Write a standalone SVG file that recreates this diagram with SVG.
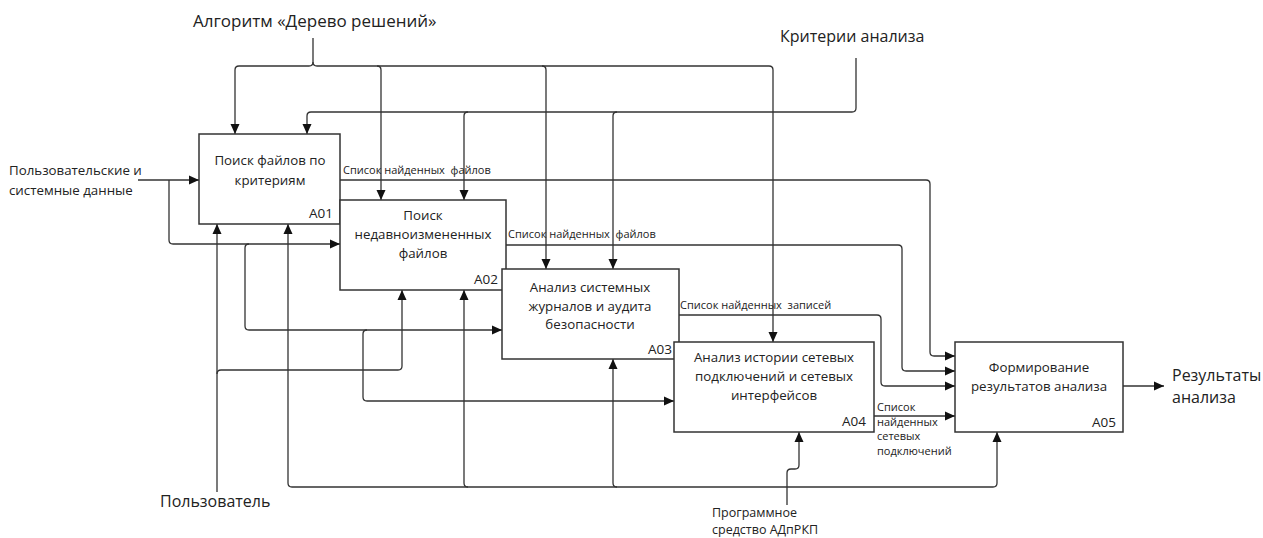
<svg xmlns="http://www.w3.org/2000/svg" width="1263" height="538" viewBox="0 0 1263 538">
<style>
text{font-family:"Open Sans","Noto Sans","Liberation Sans",sans-serif;fill:#222;white-space:pre}
.box{fill:#fff;stroke:#333;stroke-width:1.5}
.nt{font-size:13.3px;text-anchor:middle}
.id{font-size:13.5px;text-anchor:end}
.lab{font-size:11px}
.c{fill:none;stroke:#333;stroke-width:1.3}
.a{marker-end:url(#ah)}
</style>
<defs>
<marker id="ah" viewBox="0 0 10 10" refX="10" refY="5" markerWidth="10" markerHeight="10" markerUnits="userSpaceOnUse" orient="auto">
<path d="M0,0.5 L10,5 L0,9.5 z" fill="#111"/>
</marker>
</defs>
<rect width="1263" height="538" fill="#fff"/>
<g id="connectors">
<path class="c a" d="M313,38 V62 Q313,66 309,66 H239 Q235,66 235,70 V134"/>
<path class="c a" d="M313,62 Q313,66 317,66 H769 Q773,66 773,70 V342"/>
<path class="c a" d="M377,66 Q381,66 381,70 V200"/>
<path class="c a" d="M542,66 Q546,66 546,70 V269"/>
<path class="c a" d="M856,58 V108 Q856,112 852,112 H311 Q307,112 307,116 V134"/>
<path class="c a" d="M468,112 Q464,112 464,116 V200"/>
<path class="c a" d="M617,112 Q613,112 613,116 V269"/>
<path class="c a" d="M138,180 H199"/>
<path class="c a" d="M169,180 V240 Q169,244 173,244 H340"/>
<path class="c a" d="M249,244 Q245,244 245,248 V326 Q245,330 249,330 H502"/>
<path class="c a" d="M367,330 Q363,330 363,334 V397 Q363,401 367,401 H674"/>
<path class="c a" d="M340,180 H926 Q930,180 930,184 V352 Q930,356 934,356 H955"/>
<path class="c a" d="M506,245 H898 Q902,245 902,249 V367 Q902,371 906,371 H955"/>
<path class="c a" d="M679,315 H877 Q881,315 881,319 V382 Q881,386 885,386 H955"/>
<path class="c a" d="M874,416 H955"/>
<path class="c a" d="M1123,386 H1164"/>
<path class="c a" d="M217,492 V224"/>
<path class="c a" d="M217,374 Q217,370 221,370 H398 Q402,370 402,366 V290"/>
<path class="c a" d="M292,487 Q288,487 288,483 V224"/>
<path class="c a" d="M292,487 H993 Q997,487 997,483 V432"/>
<path class="c a" d="M468,487 Q464,487 464,483 V290"/>
<path class="c a" d="M617,487 Q613,487 613,483 V359"/>
<path class="c a" d="M787,505 V473 Q787,469 791,469 H795 Q799,469 799,465 V432"/>
</g>
<g id="A01">
<rect class="box" x="199" y="134" width="141" height="90"/>
<text class="nt" x="270" y="165">Поиск файлов по</text>
<text class="nt" x="270" y="185">критериям</text>
<text class="id" x="333" y="218">A01</text>
</g>
<g id="A02">
<rect class="box" x="340" y="200" width="166" height="90"/>
<text class="nt" x="423" y="220">Поиск</text>
<text class="nt" x="423" y="239">недавноизмененных</text>
<text class="nt" x="423" y="258">файлов</text>
<text class="id" x="498" y="284">A02</text>
</g>
<g id="A03">
<rect class="box" x="502" y="269" width="177" height="90"/>
<text class="nt" x="590" y="292">Анализ системных</text>
<text class="nt" x="590" y="311">журналов и аудита</text>
<text class="nt" x="590" y="329">безопасности</text>
<text class="id" x="672" y="354">A03</text>
</g>
<g id="A04">
<rect class="box" x="674" y="342" width="200" height="90"/>
<text class="nt" x="774" y="362">Анализ истории сетевых</text>
<text class="nt" x="774" y="381">подключений и сетевых</text>
<text class="nt" x="774" y="400">интерфейсов</text>
<text class="id" x="866" y="426">A04</text>
</g>
<g id="A05">
<rect class="box" x="955" y="342" width="168" height="90"/>
<text class="nt" x="1039" y="372">Формирование</text>
<text class="nt" x="1039" y="391">результатов анализа</text>
<text class="id" x="1116" y="427">A05</text>
</g>
<g id="labels">
<text style="font-size:17px" x="193" y="27">Алгоритм «Дерево решений»</text>
<text style="font-size:16px" x="780" y="42">Критерии анализа</text>
<text style="font-size:13.3px" x="9" y="175">Пользовательские и</text>
<text style="font-size:13.3px" x="9" y="195">системные данные</text>
<text style="font-size:16px" x="160" y="507">Пользователь</text>
<text style="font-size:12.5px" x="712" y="517">Программное</text>
<text style="font-size:12.5px" x="712" y="534">средство АДпРКП</text>
<text style="font-size:16px" x="1172" y="381">Результаты</text>
<text style="font-size:16px" x="1172" y="403">анализа</text>
<text class="lab" x="343" y="174">Список найденных  файлов</text>
<text class="lab" x="508" y="238">Список найденных  файлов</text>
<text class="lab" x="680" y="309">Список найденных  записей</text>
<text class="lab" x="877" y="411">Список</text>
<text class="lab" x="877" y="426">найденных</text>
<text class="lab" x="877" y="440">сетевых</text>
<text class="lab" x="877" y="455">подключений</text>
</g>
</svg>
